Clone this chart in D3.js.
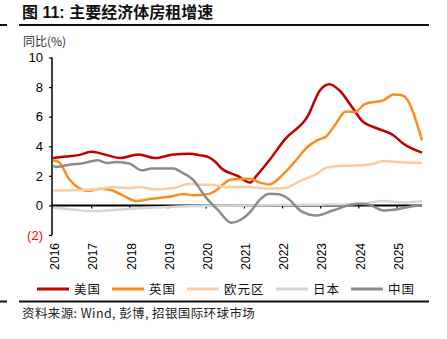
<!DOCTYPE html>
<html><head><meta charset="utf-8">
<script src="https://cdn.jsdelivr.net/npm/d3@7"></script>
<style>
html,body{margin:0;padding:0;background:#fff;}
svg{display:block;}
</style></head>
<body><svg id="c" width="447" height="339"></svg>
<script>
const title = "图 11: 主要经济体房租增速";
const yUnit = "同比(%)";
const source = "资料来源: Wind, 彭博, 招银国际环球市场";
const seriesNames = ["美国","英国","欧元区","日本","中国"];
const yTicks = [10,8,6,4,2,0,-2];
const xYears = [2016,2017,2018,2019,2020,2021,2022,2023,2024,2025];

const usPoints = [["2016-01",3.2],["2016-05",3.3],["2016-09",3.4],["2017-01",3.62],["2017-06",3.4],["2017-10",3.2],["2018-04",3.45],["2018-09",3.2],["2019-03",3.45],["2019-08",3.5],["2019-11",3.4],["2020-02",3.25],["2020-04",2.95],["2020-06",2.5],["2020-11",2.0],["2021-03",1.55],["2021-05",2.0],["2021-09",3.05],["2022-02",4.5],["2022-09",6.0],["2023-01",7.8],["2023-04",8.2],["2023-07",7.8],["2023-11",6.65],["2024-02",5.75],["2024-07",5.2],["2024-12",4.75],["2025-03",4.2],["2025-09",3.57]];
const ukPoints = [["2016-01",3.05],["2016-03",2.9],["2016-06",1.8],["2016-09",1.2],["2016-12",0.97],["2017-04",1.13],["2017-07",1.06],["2017-11",0.68],["2018-03",0.3],["2018-08",0.45],["2019-02",0.6],["2019-06",0.78],["2019-09",0.68],["2020-02",0.78],["2020-04",0.97],["2020-09",1.76],["2021-03",1.8],["2021-06",1.55],["2021-09",1.42],["2022-01",2.03],["2022-05",2.94],["2022-09",3.95],["2022-12",4.4],["2023-03",4.68],["2023-06",5.54],["2023-09",6.35],["2023-12",6.3],["2024-03",6.85],["2024-09",7.12],["2024-12",7.5],["2025-03",7.43],["2025-09",4.4]];
const euPoints = [["2016-01",1.0],["2016-07",1.02],["2017-04",1.13],["2017-08",1.24],["2018-01",1.17],["2018-04",1.24],["2018-09",1.08],["2019-03",1.17],["2019-08",1.47],["2019-12",1.4],["2020-03",1.4],["2020-07",1.24],["2021-03",1.24],["2021-08",1.13],["2022-02",1.17],["2022-06",1.58],["2022-12",2.15],["2023-03",2.55],["2023-07",2.67],["2024-01",2.71],["2024-05",2.78],["2024-09",3.0],["2025-03",2.92],["2025-09",2.87]];
const jpPoints = [["2016-01",-0.16],["2016-07",-0.28],["2017-02",-0.39],["2018-01",-0.23],["2019-01",-0.1],["2020-01",-0.02],["2021-01",0.0],["2022-01",0.02],["2023-01",0.05],["2023-08",0.07],["2024-03",0.15],["2024-09",0.3],["2025-03",0.2],["2025-09",0.3]];
const cnPoints = [["2016-01",2.67],["2016-02",2.6],["2016-07",2.78],["2016-10",2.83],["2017-03",3.05],["2017-06",2.87],["2017-09",2.94],["2018-01",2.83],["2018-05",2.37],["2018-08",2.49],["2019-03",2.49],["2019-05",2.3],["2019-09",1.74],["2020-01",0.56],["2020-05",-0.34],["2020-09",-1.17],["2020-12",-0.97],["2021-03",-0.45],["2021-06",0.38],["2021-09",0.79],["2021-12",0.75],["2022-03",0.45],["2022-07",-0.38],["2022-12",-0.68],["2023-05",-0.34],["2024-01",0.11],["2024-04",0.07],["2024-09",-0.34],["2024-12",-0.3],["2025-06",-0.05],["2025-09",0.0]];

const colors = ["#C00000","#FF8C1E","#FBCBA3","#D6D6D6","#8C8C8C"];
const allSeries = [usPoints, ukPoints, euPoints, jpPoints, cnPoints];

const parse = d3.timeParse("%Y-%m");
const svg = d3.select("#c");
const cjk = "'Noto Sans CJK SC','Liberation Sans',sans-serif";
const lat = "'Liberation Sans',Arial,'Noto Sans CJK SC',sans-serif";

const x = d3.scaleTime().domain([parse("2016-01"), parse("2025-09")]).range([53, 422]);
const y = d3.scaleLinear().domain([-2, 10]).range([235, 57.5]);

// title
svg.append("text").attr("x", 22).attr("y", 18).attr("font-family", lat).attr("font-weight", "bold")
  .attr("font-size", 16).attr("fill", "#111").text(title);
svg.append("line").attr("x1", 19).attr("x2", 429).attr("y1", 25).attr("y2", 25).attr("stroke", "#111").attr("stroke-width", 2);
svg.append("line").attr("x1", 0).attr("x2", 7).attr("y1", 25).attr("y2", 25).attr("stroke", "#111").attr("stroke-width", 2);

svg.append("text").attr("x", 23).attr("y", 46).attr("font-family", cjk).attr("font-size", 12).attr("fill", "#333").text(yUnit);

// y axis
const yAxis = d3.axisLeft(y).tickValues(yTicks).tickSize(3).tickFormat(d => d < 0 ? "(" + Math.abs(d) + ")" : d);
const gy = svg.append("g").attr("transform", "translate(52,0)").call(yAxis);
gy.select(".domain").attr("stroke", "#000").attr("stroke-width", 1.5).attr("d", "M0," + y(10) + "V" + y(-2));
gy.selectAll(".tick line").attr("stroke", "#000").attr("stroke-width", 1.2);
gy.selectAll(".tick text").attr("font-family", lat).attr("font-size", 13).attr("fill", d => d < 0 ? "#FF0000" : "#000").attr("x", -9);

// x axis on zero line
const xAxis = d3.axisBottom(x).tickValues(xYears.map(v => new Date(v, 0, 1))).tickSize(3).tickFormat(d3.timeFormat("%Y"));
const gx = svg.append("g").attr("transform", "translate(0," + y(0) + ")").call(xAxis);
gx.select(".domain").attr("stroke", "#000").attr("stroke-width", 2).attr("d", "M52,0H422");
gx.selectAll(".tick line").attr("stroke", "#000").attr("stroke-width", 1.2);
gx.selectAll(".tick text").attr("font-family", lat).attr("font-size", 12).attr("fill", "#000")
  .attr("transform", "rotate(-90)").attr("text-anchor", "end").attr("dy", "0.35em")
  .attr("x", -(243 - y(0))).attr("y", 1.5);

// lines
const line = d3.line().x(d => x(parse(d[0]))).y(d => y(d[1])).curve(d3.curveMonotoneX);
allSeries.forEach((s, i) => {
  svg.append("path").datum(s).attr("d", line).attr("fill", "none").attr("stroke", colors[i])
    .attr("stroke-width", 2.5).attr("stroke-linejoin", "round");
});

// legend
const legX = [37, 112, 187, 276, 351];
const lg = svg.append("g");
seriesNames.forEach((n, i) => {
  lg.append("line").attr("x1", legX[i]).attr("x2", legX[i] + 32).attr("y1", 289).attr("y2", 289)
    .attr("stroke", colors[i]).attr("stroke-width", 3);
  lg.append("text").attr("x", legX[i] + 37).attr("y", 293.5).attr("font-family", cjk).attr("font-size", 12.5)
    .attr("letter-spacing", 1).attr("fill", "#111").text(n);
});

// bottom rule and source
svg.append("line").attr("x1", 19).attr("x2", 429).attr("y1", 301.5).attr("y2", 301.5).attr("stroke", "#111").attr("stroke-width", 2);
svg.append("line").attr("x1", 0).attr("x2", 7).attr("y1", 301.5).attr("y2", 301.5).attr("stroke", "#111").attr("stroke-width", 2);
svg.append("text").attr("x", 22).attr("y", 318).attr("font-family", cjk).attr("font-size", 12.5)
  .attr("letter-spacing", 0.4).attr("fill", "#222").text(source);
</script></body></html>
